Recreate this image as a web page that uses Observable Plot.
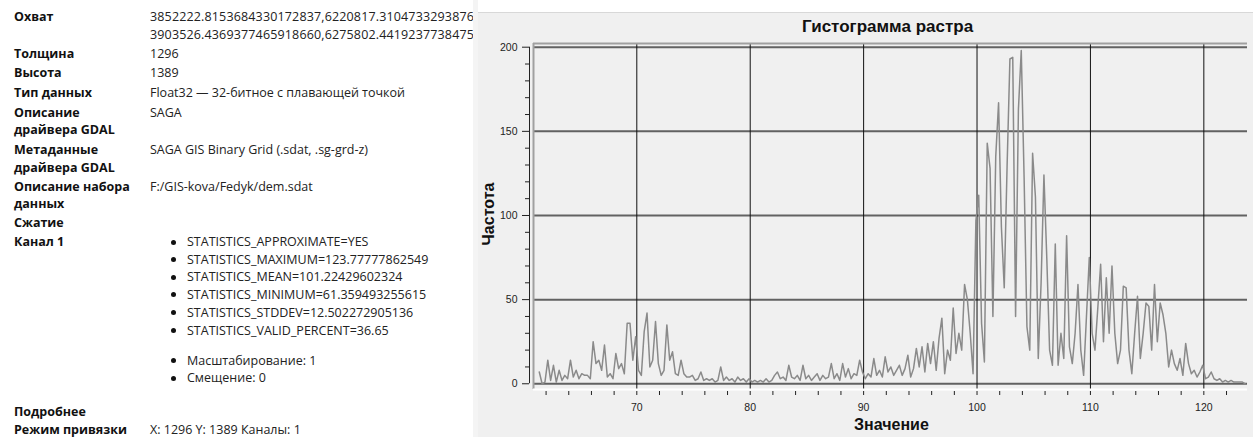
<!DOCTYPE html>
<html><head><meta charset="utf-8">
<script src="https://cdn.jsdelivr.net/npm/d3@7"></script>
<script src="https://cdn.jsdelivr.net/npm/@observablehq/plot@0.6"></script>
<style>
html,body{margin:0;padding:0}
body{width:1253px;height:437px;overflow:hidden;background:#fff;position:relative;font-family:"Open Sans",sans-serif}
#info{position:absolute;left:0;top:0;width:473px;height:437px;overflow:hidden;background:#fff;font-size:12.5px;color:#222}
.r{position:absolute;white-space:nowrap;line-height:18px;height:18px}
.lab{font-weight:bold;left:14px;color:#111}
.val{left:150px}
.bul{left:187px}
.dot{position:absolute;left:171px;width:5px;height:5px;border-radius:50%;background:#111}
#scroll{position:absolute;left:473px;top:0;width:5px;height:437px;background:#f4f4f4}
#panel{position:absolute;left:478px;top:0;width:775px;height:437px;background:#f0f0f0}
#topbar{position:absolute;left:0;top:0;width:775px;height:12px;background:#fff;border-bottom:1px solid #d8d8d8}
.ttl{position:absolute;font-family:"Liberation Sans",sans-serif;font-weight:bold;color:#111;white-space:nowrap}
#chart{position:absolute;left:0;top:38px}
</style></head>
<body>
<div id="info">
  <div class="r lab" style="top:8px">Охват</div>
  <div class="r val" style="top:8px;letter-spacing:0.15px">3852222.8153684330172837,6220817.3104733293876</div>
  <div class="r val" style="top:26px;letter-spacing:0.15px">3903526.4369377465918660,6275802.4419237738475</div>
  <div class="r lab" style="top:45px">Толщина</div><div class="r val" style="top:45px">1296</div>
  <div class="r lab" style="top:64px">Высота</div><div class="r val" style="top:64px">1389</div>
  <div class="r lab" style="top:84px">Тип данных</div><div class="r val" style="top:84px">Float32 — 32-битное с плавающей точкой</div>
  <div class="r lab" style="top:104px">Описание</div><div class="r val" style="top:104px">SAGA</div>
  <div class="r lab" style="top:121px">драйвера GDAL</div>
  <div class="r lab" style="top:141px">Метаданные</div><div class="r val" style="top:141px">SAGA GIS Binary Grid (.sdat, .sg-grd-z)</div>
  <div class="r lab" style="top:159px">драйвера GDAL</div>
  <div class="r lab" style="top:178px">Описание набора</div><div class="r val" style="top:178px">F:/GIS-kova/Fedyk/dem.sdat</div>
  <div class="r lab" style="top:195px">данных</div>
  <div class="r lab" style="top:214px">Сжатие</div>
  <div class="r lab" style="top:233px">Канал 1</div>
  <div class="dot" style="top:240px"></div><div class="r bul" style="top:233px">STATISTICS_APPROXIMATE=YES</div>
  <div class="dot" style="top:257px"></div><div class="r bul" style="top:251px">STATISTICS_MAXIMUM=123.77777862549</div>
  <div class="dot" style="top:275px"></div><div class="r bul" style="top:268px">STATISTICS_MEAN=101.22429602324</div>
  <div class="dot" style="top:292px"></div><div class="r bul" style="top:286px">STATISTICS_MINIMUM=61.359493255615</div>
  <div class="dot" style="top:310px"></div><div class="r bul" style="top:304px">STATISTICS_STDDEV=12.502272905136</div>
  <div class="dot" style="top:328px"></div><div class="r bul" style="top:322px">STATISTICS_VALID_PERCENT=36.65</div>
  <div class="dot" style="top:358px"></div><div class="r bul" style="top:352px">Масштабирование: 1</div>
  <div class="dot" style="top:376px"></div><div class="r bul" style="top:369px">Смещение: 0</div>
  <div class="r lab" style="top:403px">Подробнее</div>
  <div class="r lab" style="top:421px">Режим привязки</div><div class="r val" style="top:421px">X: 1296 Y: 1389 Каналы: 1</div>
</div>
<div id="scroll"></div>
<div id="panel">
  <div id="topbar"></div>
  <div class="ttl" id="title" style="font-size:17px;left:324px;top:17px">Гистограмма растра</div>
  <div id="chart"></div>
  <div class="ttl" style="font-size:16px;left:-24px;top:205px;transform:rotate(-90deg);transform-origin:center;width:70px;text-align:center">Частота</div>
  <div class="ttl" style="font-size:16px;left:376px;top:416px">Значение</div>
</div>
<script>
// Histogram bins: start value and bin width
const binStart = 61.4;
const binWidth = 0.25;
// Counts per bin, grouped by decade of the value axis
const counts60 = [7,0,1,14,2,11,1,8,2,5, 3,14,4,8,3,6,5,5,3,25, 12,14,8,23,4,6,3,18,9,12, 6,36,36,14,28];
const counts70 = [8,5,31,42,10,14,37,12,5,8, 35,14,19,6,5,14,6,4,4,5, 2,3,7,2,3,2,3,1,2,10, 2,4,2,3,1,4,2,3,1,3];
const counts80 = [1,2,1,2,1,3,1,2,5,7, 3,4,2,11,4,3,5,2,11,3, 5,2,4,6,2,5,3,4,12,3, 6,2,12,4,9,3,6,5,14,7];
const counts90 = [3,6,4,15,5,8,4,16,7,10, 5,8,11,5,9,17,4,9,21,10, 22,7,24,12,25,8,27,39,6,20, 14,45,18,30,20,59,50,30,6,97];
const counts100 = [112,36,13,143,128,40,135,167,93,57, 129,193,194,40,163,198,123,34,20,137, 111,15,60,124,75,20,11,83,11,30, 15,88,22,12,30,59,20,5,40,75];
const counts110 = [30,20,45,71,25,63,30,70,30,12, 20,58,57,20,6,30,52,15,30,48, 46,20,59,25,48,41,30,10,20,12, 8,15,5,24,12,6,8,4,7,11];
const counts120 = [3,4,7,3,2,3,1,2,1,2,1,1,1,1,0];

const xMajor = [70, 80, 90, 100, 110, 120];
const xMinor = [62,64,66,68,70,72,74,76,78,80,82,84,86,88,90,92,94,96,98,100,102,104,106,108,110,112,114,116,118,120,122];
const yMajor = [0, 50, 100, 150, 200];
const yMinor = [10,20,30,40,60,70,80,90,110,120,130,140,160,170,180,190];

const xDomain = [60.89, 123.85];
const yDomain = [-3.4, 202.2];

const counts = [].concat(counts60, counts70, counts80, counts90, counts100, counts110, counts120);
const bins = counts.map((c, i) => ({value: binStart + i * binWidth, count: c}));

const chart = Plot.plot({
  width: 775, height: 399,
  marginLeft: 55, marginRight: 6, marginTop: 5, marginBottom: 48,
  x: {domain: xDomain},
  y: {domain: yDomain},
  style: {background: "transparent", fontFamily: "Liberation Sans", fontSize: "10.5px", color: "#222", overflow: "visible"},
  marks: [
    Plot.ruleY(yMajor, {stroke: "#626262", strokeWidth: 2}),
    Plot.ruleX(xMajor, {stroke: "#111", strokeWidth: 1}),
    Plot.line(bins, {x: "value", y: "count", stroke: "#8a8a8a", strokeWidth: 1.5}),
    Plot.ruleY([yDomain[1]], {stroke: "#a0a0a0", strokeWidth: 2}),
    Plot.ruleX([xDomain[0]], {stroke: "#a0a0a0", strokeWidth: 2}),
    Plot.ruleY([yDomain[0]], {stroke: "#ffffff", strokeWidth: 2}),
    Plot.ruleX([xDomain[0]], {y1: 0, y2: 200, dx: -4, stroke: "#222", strokeWidth: 1}),
    Plot.axisY(yMajor, {tickSize: 7, dx: -4, tickPadding: 5, label: null, stroke: "#222"}),
    Plot.axisY(yMinor, {tickSize: 4, dx: -4, text: null, label: null, stroke: "#222"}),
    Plot.axisX(xMinor, {tickSize: 4, dy: 2, text: null, label: null, stroke: "#222"}),
    Plot.axisX(xMajor, {tickSize: 0, tickPadding: 14, label: null})
  ]
});
document.getElementById("chart").appendChild(chart);
</script>
</body></html>
